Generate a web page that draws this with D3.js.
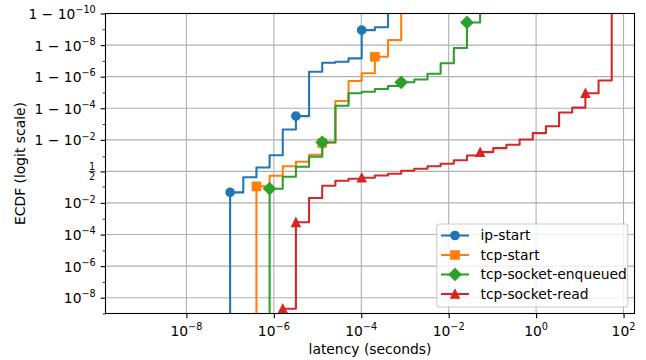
<!DOCTYPE html>
<html><head><meta charset="utf-8">
<script src="https://cdn.jsdelivr.net/npm/d3@7"></script>
<style>
body{margin:0;background:#fff}
svg{display:block}
text{font-family:"DejaVu Sans",sans-serif;fill:#000}
</style>
</head><body><svg id="chart" width="646" height="360"></svg>
<script>
// ---------- data ----------
const latencyBins = [1e-7, 2e-7, 4e-7, 8e-7, 1.6e-6, 3.2e-6, 6.4e-6, 1.28e-5, 2.56e-5, 5.12e-5,
  1.024e-4, 2.048e-4, 4.096e-4, 8.192e-4, 1.6384e-3, 3.2768e-3, 6.5536e-3, 1.31072e-2, 2.62144e-2, 5.24288e-2,
  1.048576e-1, 2.097152e-1, 4.194304e-1, 8.388608e-1, 1.6777216, 3.3554432, 6.7108864, 13.4217728, 26.8435456, 53.6870912];

const seriesNames = ["ip-start", "tcp-start", "tcp-socket-enqueued", "tcp-socket-read"];
const seriesStartBin = [0, 2, 3, 4];

const ipStart = [0.0447, 0.299, 0.636, 0.9128, 0.997795, 0.999685, 0.999999513, 0.999999867,
  0.999999885, 0.9999999307, 0.99999999887, 0.99999999925, 1];
const tcpStart = [0.1007, 0.3468, 0.679, 0.8026, 0.9184, 0.98473, 0.9999655, 0.99999812,
  0.999999385, 0.9999999451, 0.99999999516, 1];
const tcpSocketEnqueued = [0.0742, 0.3147, 0.6629, 0.8939, 0.9858, 0.9999307, 0.99998875, 0.99999107,
  0.99999397, 0.9999961, 0.99999773, 0.99999849, 0.99999934, 0.999999857, 0.9999999845, 0.99999999963, 1];
const tcpSocketRead = [2.02e-9, 5.97e-4, 0.02033, 0.1104, 0.2042, 0.2556, 0.2842, 0.3569, 0.4153,
  0.5236, 0.5951, 0.679, 0.7526, 0.835, 0.9105, 0.9434, 0.96757, 0.97968, 0.99063, 0.99623,
  0.998632, 0.999816, 0.9999086, 0.99998875, 0.99999825, 1];

const markerIndices = [[0, 5, 10], [0, 5, 9], [0, 4, 10, 15], [0, 1, 6, 15, 23]];

const xTickValues = [1e-8, 1e-6, 1e-4, 1e-2, 1, 100];
const xTickExponents = ["\u22128", "\u22126", "\u22124", "\u22122", "0", "2"];

// y major ticks (probability) and their label parts
const yMajorTicks = [1 - 1e-10, 1 - 1e-8, 1 - 1e-6, 1 - 1e-4, 1 - 1e-2, 0.5, 1e-2, 1e-4, 1e-6, 1e-8];
const yMajorLabels = [["1 \u2212 10", "\u221210"], ["1 \u2212 10", "\u22128"], ["1 \u2212 10", "\u22126"],
  ["1 \u2212 10", "\u22124"], ["1 \u2212 10", "\u22122"], ["frac", ""], ["10", "\u22122"],
  ["10", "\u22124"], ["10", "\u22126"], ["10", "\u22128"]];
const yMinorTicks = [1 - 1e-9, 1 - 1e-7, 1 - 1e-5, 1 - 1e-3, 0.9, 0.1, 1e-3, 1e-5, 1e-7, 1e-9];
const yLimits = [1e-9, 1 - 1e-10];
const xLimits = [Math.pow(10, -9.851), Math.pow(10, 2.251)];

// ---------- drawing ----------
const colors = ["#1f77b4", "#ff7f0e", "#2ca02c", "#d62728"];
const markerShapes = ["circle", "square", "diamond", "triangle"];
const seriesValues = [ipStart, tcpStart, tcpSocketEnqueued, tcpSocketRead];

const M = {left: 105.5, right: 634.5, top: 13.5, bottom: 313.5};
const svg = d3.select("#chart");
const FS = 13.89;

const logit = p => Math.log(p / (1 - p));
const xScale = d3.scaleLog().domain(xLimits).range([M.left, M.right]);
const yScale = d3.scaleLinear().domain(yLimits.map(logit)).range([M.bottom, M.top]);
const yPos = p => p <= 0 ? M.bottom + 30 : (p >= 1 ? M.top - 30 : yScale(logit(p)));

svg.append("rect").attr("width", 646).attr("height", 360).attr("fill", "#fff");

svg.append("defs").append("clipPath").attr("id", "clip")
  .append("rect").attr("x", M.left).attr("y", M.top)
  .attr("width", M.right - M.left).attr("height", M.bottom - M.top);

// grid
const grid = svg.append("g").attr("stroke", "#b0b0b0").attr("stroke-width", 1.1);
xTickValues.forEach(v => {
  const x = xScale(v);
  grid.append("line").attr("x1", x).attr("x2", x).attr("y1", M.top).attr("y2", M.bottom);
});
yMajorTicks.forEach(p => {
  const y = yScale(logit(p));
  grid.append("line").attr("x1", M.left).attr("x2", M.right).attr("y1", y).attr("y2", y);
});

// series
const markerPath = (shape) => {
  const s = 8.33;
  if (shape === "circle") return d3.symbol(d3.symbolCircle, Math.PI * (s / 2) * (s / 2))();
  if (shape === "square") return `M${-s/2},${-s/2}H${s/2}V${s/2}H${-s/2}Z`;
  if (shape === "diamond") { const d = s * Math.SQRT2 / 2; return `M0,${-d}L${d},0L0,${d}L${-d},0Z`; }
  const h = s / 2; return `M0,${-h}L${h},${h}L${-h},${h}Z`;
};

const plot = svg.append("g").attr("clip-path", "url(#clip)");
const line = d3.line().x(d => xScale(d.x)).y(d => yPos(d.p)).curve(d3.curveStepAfter);

seriesValues.forEach((vals, si) => {
  const start = seriesStartBin[si];
  const pts = [{x: latencyBins[start], p: 0}].concat(vals.map((p, i) => ({x: latencyBins[start + i], p})));
  plot.append("path").attr("d", line(pts)).attr("fill", "none")
    .attr("stroke", colors[si]).attr("stroke-width", 2.08)
    .attr("stroke-linejoin", "round").attr("stroke-linecap", "square");
  markerIndices[si].forEach(mi => {
    plot.append("path").attr("d", markerPath(markerShapes[si]))
      .attr("transform", `translate(${xScale(latencyBins[start + mi])},${yPos(vals[mi])})`)
      .attr("fill", colors[si]).attr("stroke", colors[si]).attr("stroke-width", 1.39)
      .attr("stroke-linejoin", "miter");
  });
});

// axes: ticks
const xAxis = d3.axisBottom(xScale).tickValues(xTickValues).tickFormat("").tickSize(4.86).tickSizeOuter(0);
const gx = svg.append("g").attr("transform", `translate(0,${M.bottom})`).call(xAxis);
gx.select(".domain").remove();
gx.selectAll(".tick line").attr("stroke", "#000").attr("stroke-width", 1.1);

const yAxis = d3.axisLeft(yScale).tickValues(yMajorTicks.map(logit)).tickFormat("").tickSize(4.86).tickSizeOuter(0);
const gy = svg.append("g").attr("transform", `translate(${M.left},0)`).call(yAxis);
gy.select(".domain").remove();
gy.selectAll(".tick line").attr("stroke", "#000").attr("stroke-width", 1.1);

const yAxisMinor = d3.axisLeft(yScale).tickValues(yMinorTicks.map(logit)).tickFormat("").tickSize(2.78).tickSizeOuter(0);
const gym = svg.append("g").attr("transform", `translate(${M.left},0)`).call(yAxisMinor);
gym.select(".domain").remove();
gym.selectAll(".tick line").attr("stroke", "#000").attr("stroke-width", 0.83);

// spines
svg.append("rect").attr("x", M.left).attr("y", M.top).attr("width", M.right - M.left)
  .attr("height", M.bottom - M.top).attr("fill", "none").attr("stroke", "#000").attr("stroke-width", 1.1);

// x tick labels
xTickValues.forEach((v, i) => {
  const t = svg.append("text").attr("x", xScale(v)).attr("y", 335.5)
    .attr("text-anchor", "middle").attr("font-size", FS);
  t.append("tspan").text("10");
  t.append("tspan").attr("dy", -5.8).attr("font-size", 9.7).text(xTickExponents[i]);
});

// y tick labels
const yLabelX = M.left - 9.72;
yMajorTicks.forEach((p, i) => {
  const y = yScale(logit(p));
  const [main, sup] = yMajorLabels[i];
  if (main === "frac") {
    const cx = yLabelX - 3.6;
    svg.append("text").attr("x", cx).attr("y", y - 1.8).attr("text-anchor", "middle")
      .attr("font-size", 9.7).text("1");
    svg.append("line").attr("x1", cx - 3.3).attr("x2", cx + 3.3).attr("y1", y).attr("y2", y)
      .attr("stroke", "#000").attr("stroke-width", 0.8);
    svg.append("text").attr("x", cx).attr("y", y + 8.6).attr("text-anchor", "middle")
      .attr("font-size", 9.7).text("2");
    return;
  }
  const t = svg.append("text").attr("x", yLabelX).attr("y", y + 5.5)
    .attr("text-anchor", "end").attr("font-size", FS);
  t.append("tspan").text(main);
  t.append("tspan").attr("dy", -5.8).attr("font-size", 9.7).text(sup);
});

// axis labels
svg.append("text").attr("x", (M.left + M.right) / 2).attr("y", 354)
  .attr("text-anchor", "middle").attr("font-size", FS).text("latency (seconds)");
svg.append("text").attr("transform", `translate(24.5,${(M.top + M.bottom) / 2}) rotate(-90)`)
  .attr("text-anchor", "middle").attr("font-size", FS).text("ECDF (logit scale)");

// legend
const lg = svg.append("g");
lg.append("rect").attr("x", 436.7).attr("y", 224).attr("width", 191).attr("height", 83)
  .attr("rx", 2.8).attr("fill", "#fff").attr("fill-opacity", 0.8)
  .attr("stroke", "#cccccc").attr("stroke-width", 1.1);
const rowY = [235.5, 255, 274.5, 294];
seriesNames.forEach((name, si) => {
  const y = rowY[si];
  lg.append("line").attr("x1", 441).attr("x2", 469).attr("y1", y).attr("y2", y)
    .attr("stroke", colors[si]).attr("stroke-width", 2.08);
  lg.append("path").attr("d", markerPath(markerShapes[si]))
    .attr("transform", `translate(455,${y})`)
    .attr("fill", colors[si]).attr("stroke", colors[si]).attr("stroke-width", 1.39);
  lg.append("text").attr("x", 480.5).attr("y", y + 4.9).attr("font-size", FS).text(name);
});
</script>
</body></html>
